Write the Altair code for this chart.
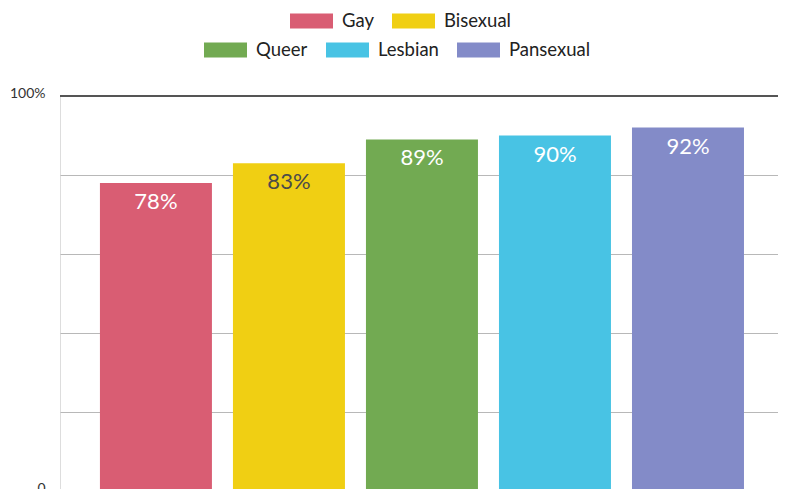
import altair as alt
import pandas as pd

categories = ["Gay", "Bisexual", "Queer", "Lesbian", "Pansexual"]
values = [78, 83, 89, 90, 92]
labels = ["78%", "83%", "89%", "90%", "92%"]
colors = ["#d95d73", "#f0cf13", "#72aa52", "#48c3e4", "#838bc8"]
row1 = ["Gay", "Bisexual"]
row2 = ["Queer", "Lesbian", "Pansexual"]
y_ticks = [0, 20, 40, 60, 80, 100]

df = pd.DataFrame({"cat": categories, "value": values, "label": labels})

sym = "M-1,-0.35L1,-0.35L1,0.35L-1,0.35Z"

def legend(lx, ly):
    return alt.Legend(
        orient="none", legendX=lx, legendY=ly, direction="horizontal", title=None,
        symbolType=sym, symbolSize=1849, symbolStrokeWidth=0, symbolOpacity=1,
        labelFontSize=18.5, labelFont="Lato", labelColor="#222", labelOffset=9,
        columnPadding=18,
    )

x = alt.X("cat:N", sort=categories, axis=None,
          scale=alt.Scale(paddingInner=0.158, paddingOuter=0.278, align=0.54))
y = alt.Y("value:Q", scale=alt.Scale(domain=[0, 100]),
          axis=alt.Axis(values=y_ticks,
                        labelExpr="datum.value == 100 ? '100%' : datum.value == 0 ? '0' : ''",
                        domain=False, ticks=False, grid=True, gridColor="#b8b8b8",
                        gridWidth=1, labelPadding=15, labelFontSize=14, labelFont="Lato",
                        labelColor="#333", title=None, labelOffset=-3))

base = alt.Chart(df)

bars1 = base.transform_filter(alt.FieldOneOfPredicate(field="cat", oneOf=row1)).mark_bar().encode(
    x=x, y=y,
    color=alt.Color("cat:N", scale=alt.Scale(domain=row1, range=colors[:2]),
                    legend=legend(230, -96.5)),
)
bars2 = base.transform_filter(alt.FieldOneOfPredicate(field="cat", oneOf=row2)).mark_bar().encode(
    x=x, y=alt.Y("value:Q"),
    color=alt.Color("cat:N", scale=alt.Scale(domain=row2, range=colors[2:]),
                    legend=legend(144, -67.5)),
)
text = base.mark_text(baseline="top", dy=9, fontSize=22, font="Lato").encode(
    x=x, y=alt.Y("value:Q"), text="label:N",
    color=alt.condition("datum.cat == 'Bisexual'", alt.value("#4a4a4a"), alt.value("white")),
)
top_rule = base.mark_rule(color="#555555", strokeWidth=2).encode(y=alt.datum(100))

chart = alt.layer(bars1, bars2, top_rule, text).resolve_scale(color="independent").properties(
    width=718, height=395,
    autosize=alt.AutoSizeParams(type="none"),
    padding={"left": 52, "top": 88, "right": 0, "bottom": 10},
).configure_view(stroke=None).configure(font="Lato")

chart.save("out.html", embed_options={"renderer": "svg", "actions": False})
